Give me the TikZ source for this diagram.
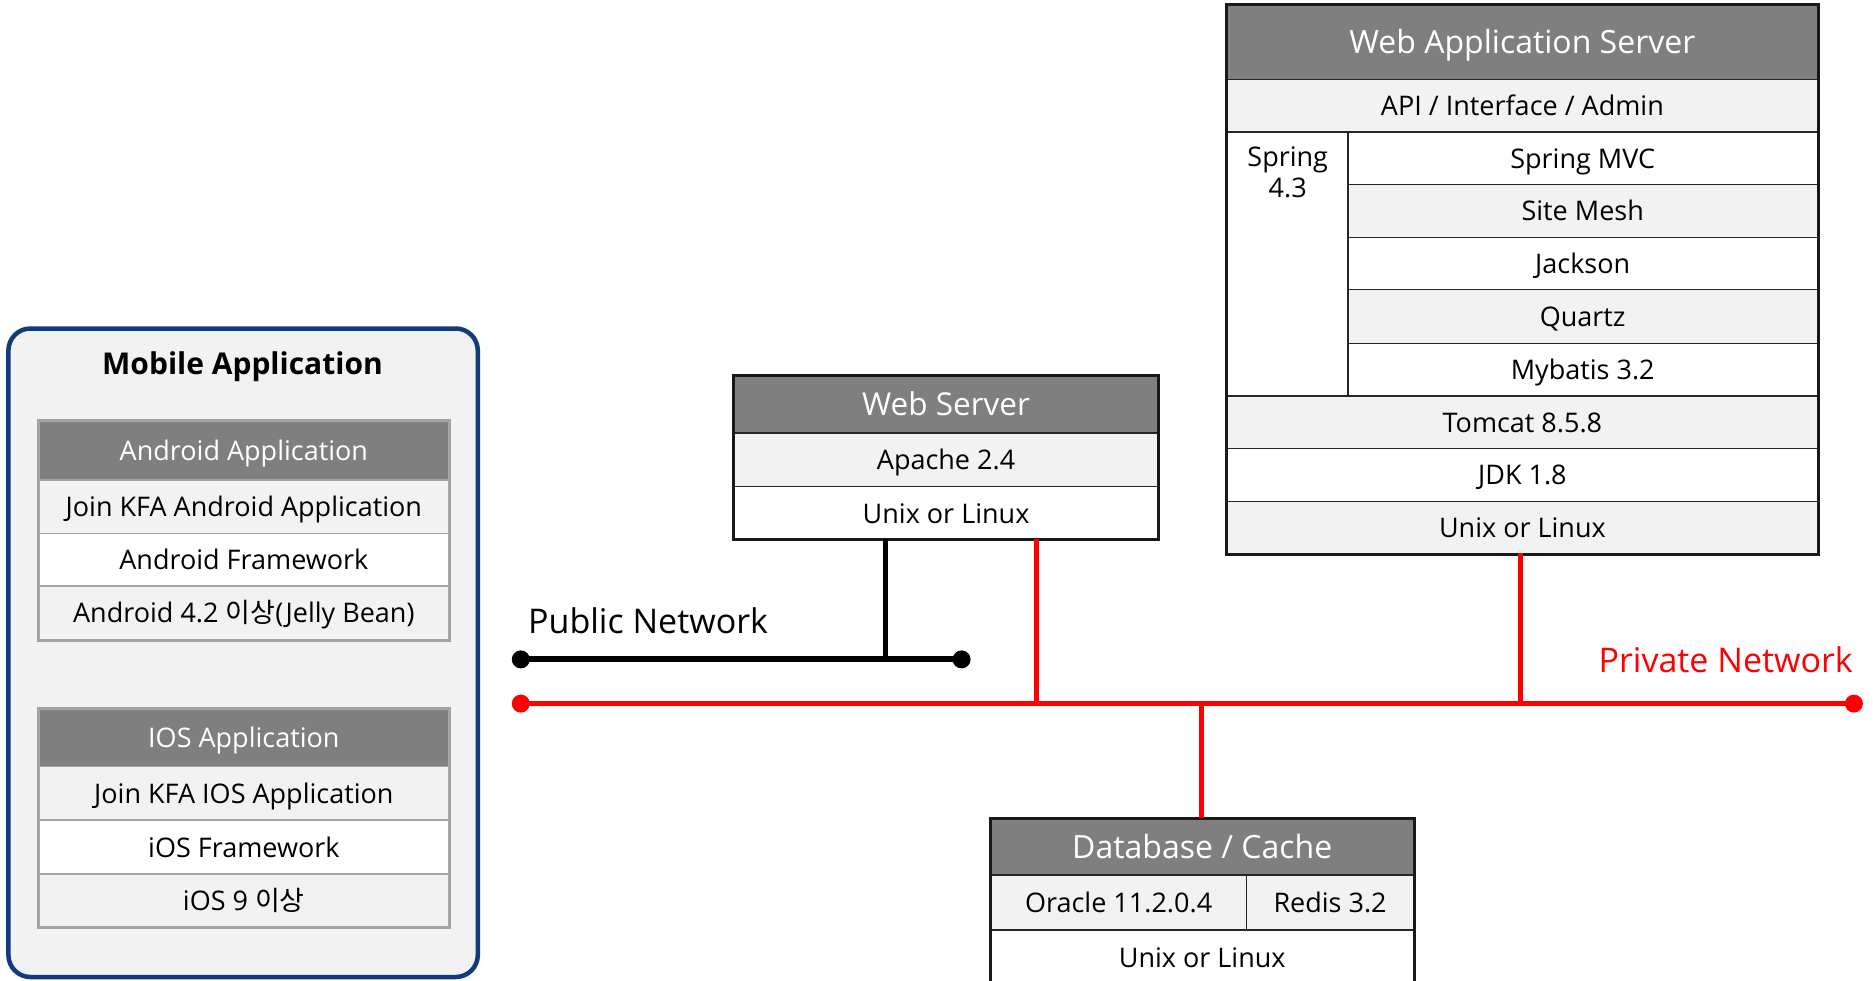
\documentclass[tikz,border=0pt]{standalone}
\usepackage{fontspec}
\setmainfont{Open Sans}
\newfontfamily\kr{Noto Sans CJK KR}
\usetikzlibrary{calc}
\definecolor{hdr}{HTML}{7F7F7F}
\definecolor{lt}{HTML}{F2F2F2}
\definecolor{navy}{HTML}{103C7A}
\definecolor{tgray}{HTML}{A3A3A3}
\definecolor{netred}{HTML}{FF0000}
\newcommand{\cell}[7]{\node[#2, anchor=north west, inner sep=0pt, minimum width={#5-#3}, minimum height={#6-#4}] (#1) at (#3,#4) {#7};}
\tikzset{
  body/.style={font=\fontsize{27}{32}\selectfont, text height=20pt, text depth=0pt},
  mhdr/.style={fill=hdr, text=white, draw=tgray, line width=1.5, font=\fontsize{27}{32}\selectfont, text height=20pt, text depth=0pt},
  mlt/.style={fill=lt, draw=tgray, line width=1.5, body},
  mwh/.style={fill=white, draw=tgray, line width=1.5, body},
  shdr/.style={fill=hdr, text=white, draw=black!85, line width=1.2, font=\fontsize{31.5}{36}\selectfont, text height=23pt, text depth=0pt},
  slt/.style={fill=lt, draw=black!85, line width=1.2, body},
  swh/.style={fill=white, draw=black!85, line width=1.2, body},
  outerm/.style={draw=tgray, line width=3},
  outers/.style={draw=black!90, line width=3},
  pubnet/.style={line width=6, black},
  privnet/.style={line width=5, netred},
  netlbl/.style={font=\fontsize{34}{40}\selectfont, inner sep=0pt},
}
\begin{document}
\begin{tikzpicture}[x=1pt,y=-1pt]
\useasboundingbox (0,0) rectangle (1873,980);
% Mobile application container
\draw[navy, line width=4.5, fill=lt, rounded corners=22] (8.4,328.5) rectangle (477.8,977) ;
\node[font=\bfseries\fontsize{30}{35}\selectfont, text height=22pt, text depth=0pt, inner sep=0pt] (mtitle) at (242.5,363) {Mobile Application};
% Android
\cell{and-h}{mhdr}{38.2}{420.5}{448}{479}{Android Application}
\cell{and-1}{mlt}{38.2}{479}{448}{532.7}{Join KFA Android Application}
\cell{and-2}{mwh}{38.2}{532.7}{448}{585.3}{Android Framework}
\cell{and-3}{mlt}{38.2}{585.3}{448}{639}{Android 4.2 {\kr 이상}(Jelly Bean)}
\draw[outerm] (and-h.north west) rectangle (and-3.south east);
% iOS
\cell{ios-h}{mhdr}{38.2}{708.3}{448}{765.7}{IOS Application}
\cell{ios-1}{mlt}{38.2}{765.7}{448}{819.4}{Join KFA IOS Application}
\cell{ios-2}{mwh}{38.2}{819.4}{448}{873.2}{iOS Framework}
\cell{ios-3}{mlt}{38.2}{873.2}{448}{925.7}{iOS 9 {\kr 이상}}
\draw[outerm] (ios-h.north west) rectangle (ios-3.south east);
% Web server
\cell{ws-h}{shdr}{733.4}{375}{1157.5}{432.4}{Web Server}
\cell{ws-1}{slt}{733.4}{432.4}{1157.5}{486.2}{Apache 2.4}
\cell{ws-2}{swh}{733.4}{486.2}{1157.5}{538.7}{Unix or Linux}
\draw[outers] (ws-h.north west) rectangle (ws-2.south east);
% WAS
\cell{was-h}{shdr, font=\fontsize{32}{37}\selectfont}{1226.8}{4.8}{1816.8}{78.8}{Web Application Server}
\cell{was-api}{slt}{1226.8}{78.8}{1816.8}{131.4}{API / Interface / Admin}
\cell{was-sp}{swh}{1226.8}{131.4}{1347.4}{395.4}{}
\node[font=\fontsize{27}{32}\selectfont, anchor=north, align=center, inner sep=0pt] (was-spt) at ($(was-sp.north)+(0,15)$) {Spring\\[-0.5pt]4.3};
\cell{was-mvc}{swh}{1347.4}{131.4}{1816.8}{184}{Spring MVC}
\cell{was-sm}{slt}{1347.4}{184}{1816.8}{236.5}{Site Mesh}
\cell{was-jk}{swh}{1347.4}{236.5}{1816.8}{289}{Jackson}
\cell{was-qz}{slt}{1347.4}{289}{1816.8}{342.8}{Quartz}
\cell{was-mb}{swh}{1347.4}{342.8}{1816.8}{395.4}{Mybatis 3.2}
\cell{was-tc}{slt}{1226.8}{395.4}{1816.8}{448}{Tomcat 8.5.8}
\cell{was-jdk}{swh}{1226.8}{448}{1816.8}{500.5}{JDK 1.8}
\cell{was-os}{slt}{1226.8}{500.5}{1816.8}{553}{Unix or Linux}
\draw[outers] (was-h.north west) rectangle (was-os.south east);
% Database
\cell{db-h}{shdr, font=\fontsize{32}{37}\selectfont}{990.2}{818.2}{1413.1}{874.4}{Database / Cache}
\cell{db-or}{slt}{990.2}{874.4}{1245.9}{929.3}{Oracle 11.2.0.4}
\cell{db-rd}{slt}{1245.9}{874.4}{1413.1}{929.3}{Redis 3.2}
\cell{db-os}{swh}{990.2}{929.3}{1413.1}{985}{Unix or Linux}
\draw[outers] (db-h.north west) rectangle (db-os.south east);
% Networks
\coordinate (pubL) at (520.8,659.4);
\coordinate (pubR) at (961.6,659.4);
\coordinate (privL) at (520.8,703.6);
\coordinate (privR) at (1853.9,703.6);
\coordinate (wsB1) at (885.1,538.7);
\coordinate (wsB2) at (1036.8,538.7);
\coordinate (wasB) at (1520.6,553);
\coordinate (dbT) at (1201.7,818.2);
\draw[pubnet] (pubL) -- (pubR);
\draw[pubnet, line width=5] (wsB1) -- (wsB1 |- pubL);
\fill (pubL) circle (9);
\fill (pubR) circle (9);
\draw[privnet] (privL) -- (privR);
\draw[privnet] (wsB2) -- (wsB2 |- privL);
\draw[privnet] (wasB) -- (wasB |- privL);
\draw[privnet] (dbT) -- (dbT |- privL);
\fill[netred] (privL) circle (9);
\fill[netred] (privR) circle (9);
\node[netlbl, anchor=west] (publbl) at (528,621) {Public Network};
\node[netlbl, anchor=east, text=netred] (privlbl) at (1853,660) {Private Network};
\end{tikzpicture}
\end{document}
